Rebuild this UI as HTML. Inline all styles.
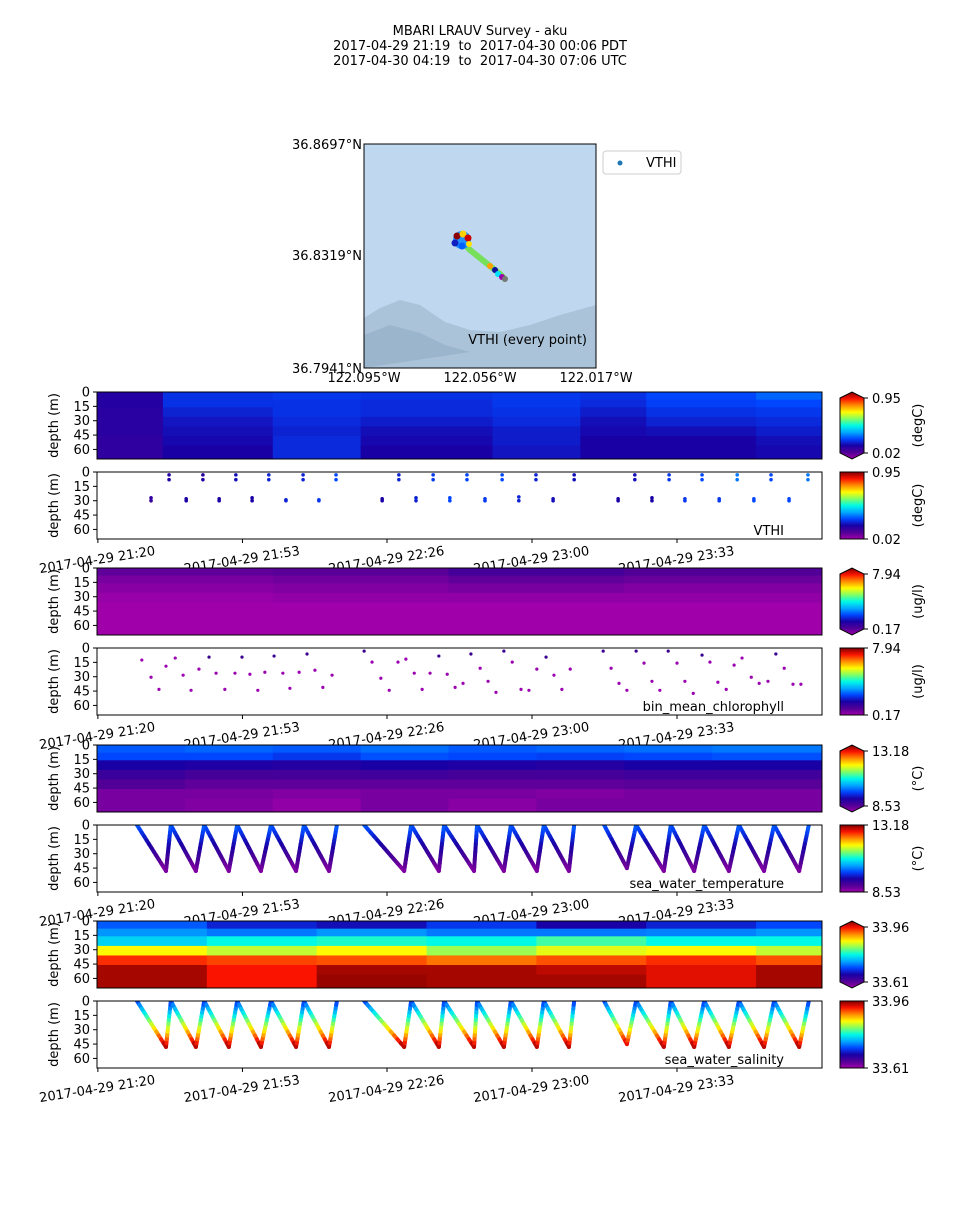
<!DOCTYPE html>
<html><head><meta charset="utf-8"><style>
body{margin:0;background:#fff;}
svg text{font-family:"DejaVu Sans","Liberation Sans",sans-serif;fill:#000;}
</style></head><body>
<svg id="fig" width="960" height="1200" viewBox="0 0 960 1200" xmlns="http://www.w3.org/2000/svg">
<rect width="960" height="1200" fill="#fff"/>
<g font-size="13" text-anchor="middle">
<text x="480" y="35" font-size="13">MBARI LRAUV Survey - aku</text>
<text x="480" y="50" font-size="13">2017-04-29 21:19 &#160;to &#160;2017-04-30 00:06 PDT</text>
<text x="480" y="65" font-size="13">2017-04-30 04:19 &#160;to &#160;2017-04-30 07:06 UTC</text>
</g>
<g id="map">
<rect x="364" y="144" width="232" height="224" fill="#bfd8ef"/>
<path d="M364,318 L380,308 L400,300 L420,305 L445,322 L470,330 L500,332 L530,325 L560,315 L596,305 L596,368 L364,368 Z" fill="#aac3d9"/>
<path d="M364,335 L390,325 L420,333 L445,345 L470,352 L364,368 Z" fill="#9bb5cc"/>
<polyline points="462,242 470,250 480,258 490,266 500,274 506,280" stroke="#77e05a" stroke-width="6" fill="none"/>
<circle cx="490" cy="266" r="3" fill="#ffa000"/><circle cx="495" cy="270" r="3" fill="#1010a0"/>
<circle cx="498" cy="274" r="3" fill="#00e0ff"/><circle cx="502" cy="277" r="3" fill="#9900aa"/><circle cx="505" cy="279" r="3" fill="#777"/>
<circle cx="462" cy="240" r="9" fill="#2090ff"/>
<circle cx="457" cy="236" r="3.5" fill="#8b0000"/><circle cx="463" cy="234" r="3.5" fill="#ffd000"/><circle cx="468" cy="238" r="3.5" fill="#cc0000"/><circle cx="455" cy="243" r="3.5" fill="#1020c0"/><circle cx="462" cy="246" r="3.5" fill="#0060ff"/><circle cx="469" cy="244" r="3" fill="#ffe000"/>
<rect x="364" y="144" width="232" height="224" fill="none" stroke="#000" stroke-width="1"/>
<text x="587" y="344" font-size="13" text-anchor="end">VTHI (every point)</text>
<g font-size="13" text-anchor="end"><text x="362" y="149">36.8697°N</text><text x="362" y="260">36.8319°N</text><text x="362" y="373">36.7941°N</text></g>
<g font-size="13" text-anchor="middle"><text x="364" y="382">122.095°W</text><text x="480" y="382">122.056°W</text><text x="596" y="382">122.017°W</text></g>
<g><rect x="603" y="151" width="78" height="23" rx="3" fill="#fff" stroke="#ccc"/><circle cx="620" cy="163" r="2.5" fill="#1f77b4"/><text x="646" y="167" font-size="13">VTHI</text></g>
</g>
<g id="panels"></g>
</svg>
<script>
// ---- data ----
const T0 = 0, T1 = 165; // minutes since 21:20
const tickLabels = ["2017-04-29 21:20","2017-04-29 21:53","2017-04-29 22:26","2017-04-29 23:00","2017-04-29 23:33"];
const tickMinutes = [0.2, 33.1, 66, 99, 132];
const depthTicks = [0, 15, 30, 45, 60];
// VTHI profile samples
const vthiTimes = [12.3,16.4,20.3,24.1,27.8,31.6,35.3,39.1,43,46.9,50.5,54.4,64.9,68.7,72.6,76.5,80.3,84.2,88.3,92.2,96,99.9,103.8,108.6,118.6,122.4,126.3,130.2,133.8,137.7,141.6,145.7,149.5,153.4,157.5,161.8];
const vthiDepthA = [27,3,28,3,28,3,27,3,29,3,29,3,28,3,27,3,27,3,28,3,26,3,28,3,28,3,27,3,28,3,28,3,28,3,28,3];
const vthiDepthB = [30,8,30,8,30,8,30,8,30,8,30,8,30,8,30,8,30,8,30,8,30,8,30,8,30,8,30,8,30,8,30,8,30,8,30,8];
const vthiVals = [0.15,0.18,0.2,0.18,0.2,0.22,0.2,0.25,0.25,0.25,0.28,0.3,0.2,0.25,0.25,0.28,0.3,0.3,0.28,0.3,0.25,0.25,0.22,0.22,0.2,0.22,0.2,0.28,0.28,0.3,0.28,0.35,0.3,0.3,0.3,0.35];
// chlorophyll samples
const chlTimes = [10.2,12.3,14.1,15.7,17.8,19.6,21.4,23.2,25.5,27.1,29.1,31.4,33,34.8,36.6,38.2,40.3,42.3,43.9,46,47.8,49.6,51.4,53.5,60.8,62.6,64.6,66.5,68.5,70.3,72.2,74,75.8,77.8,79.7,81.5,83.3,85.1,87.2,89,90.8,92.6,94.5,96.5,98.3,100.1,102.2,104,105.8,107.7,115.2,117,118.8,120.6,122.7,124.5,126.3,128.1,130,132,133.8,135.7,137.7,139.5,141.3,143.2,145,146.8,148.9,150.7,152.7,154.5,156.4,158.4,160.2];
const chlDepths = [12.6,30.5,43.2,19,10.5,28.4,44.2,22.1,9.5,26.3,43.2,26.3,9.5,27.4,44.2,25.3,8.4,26.3,42.1,25.3,6.3,23.2,41.1,28.4,3.2,14.7,31.6,44.2,14.7,11.6,26.3,43.2,26.3,8.4,27.4,41.1,36.9,6.3,21.1,34.8,46.3,3.2,14.7,43.2,44.2,22.1,9.5,28.4,43.2,22.1,3.2,21.1,36.9,44.2,3.2,15.8,34.8,44.2,3.2,15.8,34.8,47.4,7.4,14.7,35.8,43.2,17.9,10.5,30.5,36.9,34.8,6.3,21.1,37.9,37.9];
// yo-yo vertices (temperature / salinity)
const yoTimes = [9.1,15.7,16.8,22.5,24.4,30,31.9,37.3,39.6,45.3,47.1,52.8,54.6, null, 60.8,69.9,71.5,77.8,79,85.8,86.5,92.6,94.2,100.1,101.7,107.4,108.6, null, 115.4,120.6,122.7,129,130.6,135.9,138.2,143.8,146.1,151.8,154.1,159.8,162];
const yoDepths = [0,48,0,48,0,48,0,48,0,48,0,48,0, null, 0,48,0,48,0,48,0,48,0,48,0,48,0, null, 0,45,0,48,0,48,0,48,0,48,0,48,0];
// contour band edges (depth m) and column edges (minutes)
const bandEdges = [0,8,16,26,36,46,56,70];
const vthiCols = [-1,15,40,60,90,110,125,150,166];
const vthiGrid = [
 [0.18,0.27,0.28,0.27,0.28,0.27,0.30,0.33],
 [0.18,0.27,0.27,0.26,0.28,0.26,0.29,0.30],
 [0.17,0.25,0.27,0.26,0.27,0.24,0.27,0.28],
 [0.17,0.23,0.26,0.24,0.26,0.22,0.25,0.26],
 [0.17,0.22,0.25,0.22,0.24,0.21,0.22,0.24],
 [0.16,0.21,0.26,0.21,0.24,0.2,0.2,0.22],
 [0.16,0.2,0.26,0.2,0.23,0.2,0.2,0.21]];
const chlCols = [-1,40,80,120,166];
const chlGrid = [
 [0.08,0.09,0.12,0.1],[0.05,0.06,0.08,0.07],[0.03,0.04,0.05,0.04],[0.01,0.02,0.02,0.02],[0,0,0,0],[0,0,0,0],[0,0,0,0]];
const tempCols = [-1,20,40,60,80,100,120,140,166];
const tempGrid = [
 [0.32,0.33,0.32,0.34,0.32,0.33,0.34,0.35],
 [0.3,0.3,0.28,0.31,0.3,0.29,0.3,0.31],
 [0.2,0.19,0.18,0.2,0.19,0.18,0.2,0.2],
 [0.14,0.12,0.12,0.13,0.12,0.12,0.13,0.13],
 [0.1,0.08,0.08,0.08,0.08,0.08,0.09,0.09],
 [0.05,0.05,0.04,0.05,0.05,0.04,0.05,0.05],
 [0.05,0.04,0.02,0.05,0.03,0.05,0.05,0.05]];
const salCols = [-1,25,50,75,100,125,150,166];
const salGrid = [
 [0.32,0.25,0.22,0.28,0.2,0.25,0.3],
 [0.38,0.35,0.38,0.35,0.35,0.36,0.38],
 [0.45,0.5,0.52,0.5,0.55,0.5,0.5],
 [0.7,0.65,0.7,0.62,0.68,0.7,0.65],
 [0.88,0.86,0.85,0.82,0.85,0.88,0.85],
 [0.97,0.9,0.97,0.97,0.95,0.92,0.97],
 [0.97,0.9,0.98,0.97,0.97,0.92,0.97]];

// ---- helpers ----
const stops = [[0,[160,0,170]],[0.1,[80,0,150]],[0.2,[25,0,165]],[0.3,[0,70,255]],[0.4,[0,170,255]],[0.5,[0,250,230]],[0.6,[130,255,100]],[0.7,[255,250,0]],[0.8,[255,140,0]],[0.9,[250,20,0]],[1,[128,0,0]]];
function cmap(v){v=Math.max(0,Math.min(1,v));for(let i=1;i<stops.length;i++){if(v<=stops[i][0]){const a=stops[i-1],b=stops[i];const f=(v-a[0])/(b[0]-a[0]);const c=a[1].map((x,k)=>Math.round(x+(b[1][k]-x)*f));return `rgb(${c})`;}}return 'rgb(128,0,0)';}
const X0=97, X1=822;
const xs = t => X0 + (t - T0) / (T1 - T0) * (X1 - X0);
const NS="http://www.w3.org/2000/svg";
const root=document.getElementById('panels');
function el(tag,attrs,parent){const e=document.createElementNS(NS,tag);for(const k in attrs)e.setAttribute(k,attrs[k]);(parent||root).appendChild(e);return e;}
const panelTops=[392,472,568,648,745,825,921,1001];
const PH=67, DMAX=70;
function ysF(top){return d=>top+d/DMAX*PH;}

function axesFrame(g,top){
  const ys=ysF(top);
  el('rect',{x:X0,y:top,width:X1-X0,height:PH,fill:'none',stroke:'#000','stroke-width':1},g);
  depthTicks.forEach(d=>{
    el('line',{x1:X0-4,x2:X0,y1:ys(d),y2:ys(d),stroke:'#000'},g);
    const tx=el('text',{x:X0-7,y:ys(d)+4.5,'font-size':13,'text-anchor':'end'},g);tx.textContent=d;
  });
  const yl=el('text',{x:0,y:0,'font-size':13,'text-anchor':'middle',transform:`translate(58,${top+PH/2}) rotate(-90)`},g);
  yl.textContent='depth (m)';
}
function timeAxis(g,top){
  tickMinutes.forEach((m,i)=>{
    el('line',{x1:xs(m),x2:xs(m),y1:top+PH,y2:top+PH+4,stroke:'#000'},g);
    const tx=el('text',{x:0,y:0,'font-size':13,'text-anchor':'middle',transform:`translate(${xs(m)},${top+PH+25}) rotate(-9)`},g);
    tx.textContent=tickLabels[i];
  });
}
function colorbar(g,top,lo,hi,unit,extend){
  const id='cb'+top;
  const defs=el('defs',{},g);
  const lg=el('linearGradient',{id:id,x1:0,y1:1,x2:0,y2:0},defs);
  for(let i=0;i<=20;i++){el('stop',{offset:i/20,'stop-color':cmap(i/20)},lg);}
  const x=840,w=24;
  if(extend){
    el('path',{d:`M${x},${top+6} L${x+w/2},${top} L${x+w},${top+6} L${x+w},${top+PH-6} L${x+w/2},${top+PH} L${x},${top+PH-6} Z`,fill:`url(#${id})`,stroke:'#000','stroke-width':1},g);
  } else {
    el('rect',{x:x,y:top,width:w,height:PH,fill:`url(#${id})`,stroke:'#000','stroke-width':1},g);
  }
  el('line',{x1:x+w,x2:x+w+4,y1:top+(extend?6:0),y2:top+(extend?6:0),stroke:'#000'},g);
  el('line',{x1:x+w,x2:x+w+4,y1:top+PH-(extend?6:0),y2:top+PH-(extend?6:0),stroke:'#000'},g);
  const t1=el('text',{x:x+w+8,y:top+(extend?6:0)+5,'font-size':13},g);t1.textContent=hi;
  const t2=el('text',{x:x+w+8,y:top+PH-(extend?6:0)+5,'font-size':13},g);t2.textContent=lo;
  const u=el('text',{x:0,y:0,'font-size':13,'text-anchor':'middle',transform:`translate(922,${top+PH/2}) rotate(-90)`},g);u.textContent=unit;
}
function contour(name,top,cols,grid,lo,hi,unit){
  const g=el('g',{});
  
  
  const ys=ysF(top);
  el('rect',{x:X0,y:top,width:X1-X0,height:PH,fill:'#fff'},g);
  const cp='clip'+top;const d=el('defs',{},g);const c=el('clipPath',{id:cp},d);el('rect',{x:X0,y:top,width:X1-X0,height:PH},c);
  const cells=el('g',{'clip-path':`url(#${cp})`},g);
  for(let r=0;r<grid.length;r++)for(let k=0;k<grid[r].length;k++){
    const cell=el('rect',{x:xs(cols[k]),y:ys(bandEdges[r]),width:xs(cols[k+1])-xs(cols[k])+0.5,height:ys(bandEdges[r+1])-ys(bandEdges[r])+0.5,fill:cmap(grid[r][k])},cells);
    
    
  }
  axesFrame(g,top);
  colorbar(g,top,lo,hi,unit,true);
}
function scatterPanel(name,top,label,lo,hi,unit,draw){
  const g=el('g',{});
  
  
  el('rect',{x:X0,y:top,width:X1-X0,height:PH,fill:'#fff'},g);
  const cp='clip'+top;const d=el('defs',{},g);const c=el('clipPath',{id:cp},d);el('rect',{x:X0,y:top,width:X1-X0,height:PH},c);
  const marks=el('g',{'clip-path':`url(#${cp})`},g);
  draw(marks,ysF(top));
  axesFrame(g,top);
  const lt=el('text',{x:X1-38,y:top+PH-4,'font-size':13,'text-anchor':'end'},g);lt.textContent=label;
  colorbar(g,top,lo,hi,unit,false);
  return g;
}
function yoyo(marks,ys,valFn,name){
  for(let i=1;i<yoTimes.length;i++){
    if(yoTimes[i]===null||yoTimes[i-1]===null)continue;
    const n=12;
    for(let s=0;s<n;s++){
      const f0=s/n,f1=(s+1)/n;
      const t0=yoTimes[i-1]+(yoTimes[i]-yoTimes[i-1])*f0,t1=yoTimes[i-1]+(yoTimes[i]-yoTimes[i-1])*f1;
      const d0=yoDepths[i-1]+(yoDepths[i]-yoDepths[i-1])*f0,d1=yoDepths[i-1]+(yoDepths[i]-yoDepths[i-1])*f1;
      const seg=el('line',{x1:xs(t0),y1:ys(d0),x2:xs(t1),y2:ys(d1),stroke:cmap(valFn((d0+d1)/2)),'stroke-width':4,'stroke-linecap':'round'},marks);
      
      
    }
  }
}
const pairs=[
 ()=>contour('vthi-contour',panelTops[0],vthiCols,vthiGrid,'0.02','0.95','(degC)'),
 ()=>scatterPanel('vthi-scatter',panelTops[1],'VTHI','0.02','0.95','(degC)',(m,ys)=>{
   vthiTimes.forEach((t,i)=>{
     [vthiDepthA[i],vthiDepthB[i]].forEach(d=>{
       const p=el('circle',{cx:xs(t),cy:ys(d),r:1.8,fill:cmap(vthiVals[i])},m);
       
       
     });
   });
 }),
 ()=>contour('chlorophyll-contour',panelTops[2],chlCols,chlGrid,'0.17','7.94','(ug/l)'),
 ()=>scatterPanel('chlorophyll-scatter',panelTops[3],'bin_mean_chlorophyll','0.17','7.94','(ug/l)',(m,ys)=>{
   chlTimes.forEach((t,i)=>{
     const p=el('circle',{cx:xs(t),cy:ys(chlDepths[i]),r:1.6,fill:chlDepths[i]<10?'#3a0090':'#9a00b0'},m);
     
     
   });
 }),
 ()=>contour('temperature-contour',panelTops[4],tempCols,tempGrid,'8.53','13.18','(°C)'),
 ()=>scatterPanel('temperature-scatter',panelTops[5],'sea_water_temperature','8.53','13.18','(°C)',(m,ys)=>yoyo(m,ys,d=>0.33-d/48*0.3,'temperature-segment')),
 ()=>contour('salinity-contour',panelTops[6],salCols,salGrid,'33.61','33.96',''),
 ()=>scatterPanel('salinity-scatter',panelTops[7],'sea_water_salinity','33.61','33.96','',(m,ys)=>yoyo(m,ys,d=>0.28+d/48*0.7,'salinity-segment'))
];
pairs.forEach(f=>f());
[1,3,5,7].forEach(i=>{
  const g=el('g',{});
  
  
  timeAxis(g,panelTops[i]);
  root.insertBefore(g,root.firstChild);
});
</script>
</body></html>
